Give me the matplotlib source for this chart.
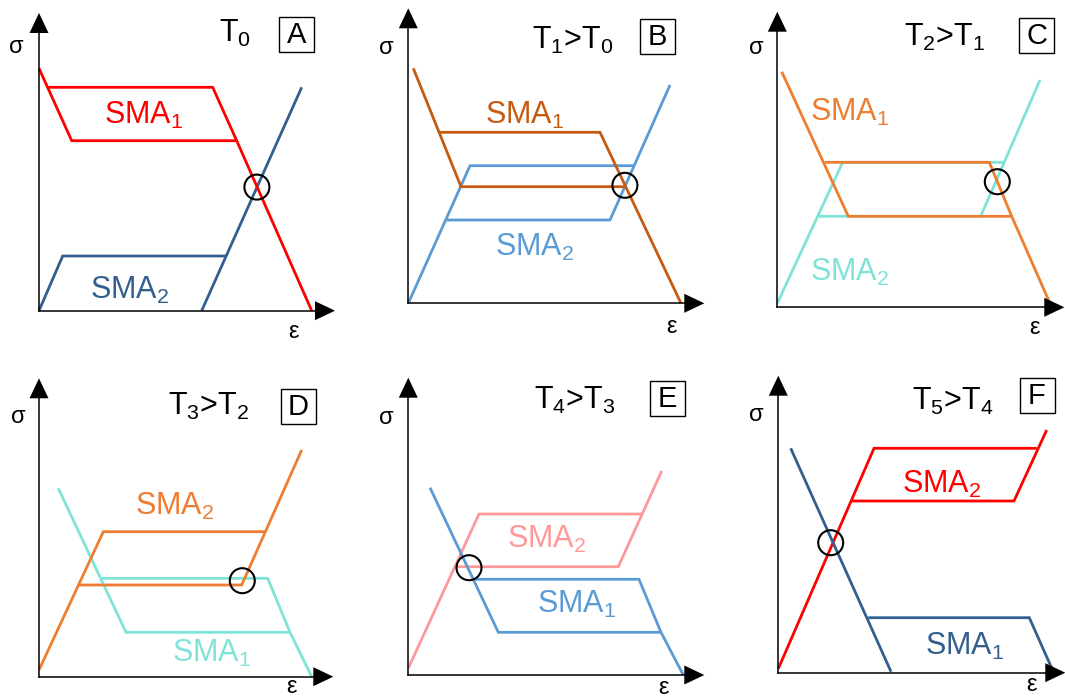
import matplotlib
matplotlib.use("Agg")
import matplotlib.pyplot as plt
from matplotlib.patches import Circle, Rectangle

plt.rcParams['font.family'] = ['Liberation Sans', 'DejaVu Sans']
plt.rcParams['mathtext.fontset'] = 'custom'
plt.rcParams['mathtext.rm'] = 'Liberation Sans'
plt.rcParams['mathtext.it'] = 'Liberation Sans:italic'

# ---------------------------------------------------------------------------
# Schematic stress-strain curves (strain eps to the right, stress sigma up),
# one panel per temperature step.  Each curve is a list of polylines.
# ---------------------------------------------------------------------------
panel_letters = ['A', 'B', 'C', 'D', 'E', 'F']
panel_titles = [r'$\mathregular{T_0}$',
                r'$\mathregular{T_1}$>$\mathregular{T_0}$',
                r'$\mathregular{T_2}$>$\mathregular{T_1}$',
                r'$\mathregular{T_3}$>$\mathregular{T_2}$',
                r'$\mathregular{T_4}$>$\mathregular{T_3}$',
                r'$\mathregular{T_5}$>$\mathregular{T_4}$']

sma1_curves = [
    [[(0, 242.4), (32.7, 170), (197.7, 170), (272.7, 0)],
     [(8.6, 223.4), (173.7, 223.4), (197.7, 170)]],
    [[(5, 235), (52.7, 116.6), (217.4, 116.6), (272.7, 0)],
     [(31.7, 171), (191.7, 171), (217.4, 116.6)]],
    [[(4.4, 235.6), (71, 91), (234.4, 91), (274.4, 0)],
     [(47.7, 145), (212, 145), (234.4, 91)]],
    [[(19.3, 188.4), (87, 44.4), (251, 44.4), (272.7, 0)],
     [(62.7, 98.4), (228.7, 98.4), (251, 44.4)]],
    [[(21.7, 187.3), (90, 42.7), (252.7, 42.7), (275, 0)],
     [(65, 95.7), (230.7, 95.7), (252.7, 42.7)]],
    [[(12.4, 224.4), (112.7, 1)],
     [(90, 55), (251, 55), (275, 1)]],
]

sma2_curves = [
    [[(0, 0), (23.7, 54.7), (187, 54.7)],
     [(162.7, 0), (262.7, 223.4)]],
    [[(0, 0), (61.7, 137.6), (225, 137.6)],
     [(38.4, 83.3), (201.7, 83.3), (261.7, 218.3)]],
    [[(0, 4), (65.4, 145), (226, 145)],
     [(41, 91), (203.4, 91), (262.7, 227.3)]],
    [[(0, 6.7), (64.3, 145), (226, 145)],
     [(40, 91.7), (202.7, 91.7), (262.7, 226.7)]],
    [[(0, 6.7), (70.7, 161), (233.4, 161)],
     [(48.4, 108.3), (210, 108.3), (253.4, 204)]],
    [[(0, 4), (95.7, 224.4), (258.4, 224.4)],
     [(72.4, 171.7), (235.7, 171.7), (268.4, 242.7)]],
]

# crossing points of the two curves (marked with a circle)
crossings = [(217.9, 123.6), (216.6, 118), (220, 125.6),
             (203.3, 96), (60.7, 107.3), (52.4, 130)]

# ---------------------------------------------------------------------------
# styling / layout
# ---------------------------------------------------------------------------
sma1_colors = ['#FF0000', '#C55A11', '#ED7D31', '#7FE3D7', '#5B9BD5', '#335F8E']
sma2_colors = ['#335F8E', '#5B9BD5', '#7FE3D7', '#ED7D31', '#FF9999', '#FF0000']
sma1_on_top = [True, True, True, False, True, True]

W, H = 1065, 698
cells = [(0, 0, 355, 349), (355, 0, 710, 349), (710, 0, 1065, 349),
         (0, 349, 355, 698), (355, 349, 710, 698), (710, 349, 1065, 698)]
origins = [(39, 310.7), (408.3, 303.3), (777.3, 307.3),
           (39, 676.7), (408.3, 675), (778.3, 672.7)]
axis_tips = [(296, 297.7), (296, 295), (287, 295.6),
             (294.3, 298.4), (296, 297.3), (287, 297)]

sma1_label_pos = [(104.3, 195.7), (116.7, 188.3), (72.7, 195.3),
                  (172.7, 23.4), (168.4, 70.7), (186.7, 26)]
sma2_label_pos = [(91, 20.7), (126.7, 56.3), (72.7, 35.3),
                  (136, 170), (138.4, 135.7), (163.4, 188.4)]
title_pos = [(196, 277.4), (164, 263.3), (167.7, 270.3),
             (169.3, 270), (166.7, 275), (175, 271)]
box_pos = [(257.7, 276.5), (249.4, 266.6), (259.4, 272.3),
           (259, 269.9), (258.9, 276.7), (258.7, 277.2)]
sigma_pos = [(-22.3, 264), (-21.6, 255), (-20.6, 259),
             (-20.7, 260), (-21.6, 256.7), (-21.6, 257.7)]
eps_pos = [(254.3, -21), (263.4, -24), (257.7, -21),
           (252.7, -10.5), (255, -12.5), (253.4, -12.5)]

LW = 2.0
HEAD_LEN, HEAD_HALF = 20, 9.5
LABEL_FS = 22
SMALL_FS = 17

fig = plt.figure(figsize=(W / 100, H / 100), dpi=100)
fig.patch.set_facecolor('white')


def draw_curve(ax, paths, color, z):
    for path in paths:
        xs = [p[0] for p in path]
        ys = [p[1] for p in path]
        ax.plot(xs, ys, color=color, lw=LW, solid_joinstyle='miter',
                solid_capstyle='butt', zorder=z, clip_on=False)


for i in range(6):
    x0, y0, x1, y1 = cells[i]
    ox, oy = origins[i]
    ax = fig.add_axes([x0 / W, (H - y1) / H, (x1 - x0) / W, (y1 - y0) / H])
    # one data unit == one pixel, origin at the corner of the sigma/eps axes
    ax.set_xlim(x0 - ox, x1 - ox)
    ax.set_ylim(oy - y1, oy - y0)
    ax.axis('off')

    # sigma and eps axes with filled arrow heads
    tx, ty = axis_tips[i]
    ax.plot([0, tx - HEAD_LEN + 1], [0, 0], color='black', lw=1.1, zorder=5, clip_on=False)
    ax.plot([0, 0], [0, ty - HEAD_LEN + 1], color='black', lw=1.1, zorder=5, clip_on=False)
    ax.fill([tx - HEAD_LEN, tx - HEAD_LEN, tx], [-HEAD_HALF, HEAD_HALF, 0],
            color='black', lw=0, zorder=5, clip_on=False)
    ax.fill([-HEAD_HALF, HEAD_HALF, 0], [ty - HEAD_LEN, ty - HEAD_LEN, ty],
            color='black', lw=0, zorder=5, clip_on=False)

    z1, z2 = (3, 2) if sma1_on_top[i] else (2, 3)
    draw_curve(ax, sma2_curves[i], sma2_colors[i], z2)
    draw_curve(ax, sma1_curves[i], sma1_colors[i], z1)

    ax.add_patch(Circle(crossings[i], 12.5, fill=False, ec='black', lw=1.5,
                        zorder=6, clip_on=False))

    ax.text(*sma1_label_pos[i], r'$\mathregular{SMA_1}$', color=sma1_colors[i],
            fontsize=LABEL_FS, ha='center', va='center', zorder=7)
    ax.text(*sma2_label_pos[i], r'$\mathregular{SMA_2}$', color=sma2_colors[i],
            fontsize=LABEL_FS, ha='center', va='center', zorder=7)

    ax.text(*title_pos[i], panel_titles[i], color='black', fontsize=LABEL_FS,
            ha='center', va='center')
    bx, by = box_pos[i]
    ax.add_patch(Rectangle((bx - 17.5, by - 17.5), 35, 35, fill=False,
                           ec='black', lw=1.0, clip_on=False))
    ax.text(bx, by - 0.5, panel_letters[i], color='black', fontsize=21,
            ha='center', va='center')

    ax.text(*sigma_pos[i], 'σ', color='black', fontsize=SMALL_FS,
            ha='center', va='center')
    ax.text(*eps_pos[i], 'ε', color='black', fontsize=SMALL_FS,
            ha='center', va='center')

fig.savefig('out.png', dpi=100, facecolor='white')
